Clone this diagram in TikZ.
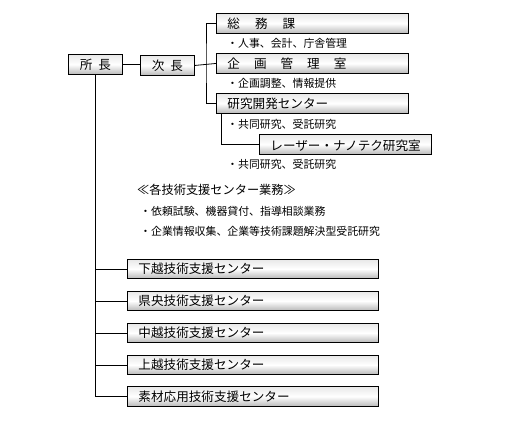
\documentclass[tikz,border=0pt]{standalone}
\usepackage{fontspec}
\setmainfont{Noto Sans CJK JP}
\begin{document}
\begin{tikzpicture}[x=1pt,y=-1pt,
  box/.style={draw=black, line width=0.9pt, rectangle, anchor=north west,
    top color=gray!18, bottom color=gray!55, middle color=white,
    minimum height=20pt, inner xsep=11pt, inner ysep=0pt, align=left,
    font=\fontsize{12.6}{14}\selectfont},
  note/.style={anchor=west, inner sep=0pt, font=\fontsize{10.9}{13}\selectfont},
  conn/.style={draw=black, line width=0.8pt}]
\useasboundingbox (0,0) rectangle (512,429);

\node[box, minimum width=54pt, minimum height=20pt, align=center, inner xsep=0pt] (shocho) at (68,54) {所\hspace{6pt}長};
\node[box, minimum width=54pt, minimum height=20pt, align=center, inner xsep=0pt] (jicho) at (140,55) {次\hspace{6pt}長};

\node[box, text width=170pt] (soumu) at (216,13) {総\hspace{15pt}務\hspace{15pt}課};
\node[box, text width=170pt] (kikaku) at (216,53) {企\hspace{14pt}画\hspace{14pt}管\hspace{14pt}理\hspace{14pt}室};
\node[box, text width=170pt] (kenkyu) at (216,93) {研究開発センター};
\node[box, text width=150pt, inner xsep=11pt] (laser) at (259,134) {\hspace{2pt}レーザー・ナノテク研究室};

\node[note] (n1) at (227,43) {・人事、会計、庁舎管理};
\node[note] (n2) at (227,83) {・企画調整、情報提供};
\node[note] (n3) at (227,124) {・共同研究、受託研究};
\node[note] (n4) at (227,164) {・共同研究、受託研究};

\node[anchor=west, inner sep=0pt, font=\fontsize{12.2}{14}\selectfont] (gyomu) at (137,190) {≪各技術支援センター業務≫};
\node[note] (n5) at (140,211) {・依頼試験、機器貸付、指導相談業務};
\node[note] (n6) at (140,231) {・企業情報収集、企業等技術課題解決型受託研究};

\node[box, text width=229pt, minimum height=19pt] (c1) at (127,259) {下越技術支援センター};
\node[box, text width=229pt, minimum height=19pt] (c2) at (127,291) {県央技術支援センター};
\node[box, text width=229pt, minimum height=19pt] (c3) at (127,323) {中越技術支援センター};
\node[box, text width=229pt, minimum height=19pt] (c4) at (127,355) {上越技術支援センター};
\node[box, text width=229pt, minimum height=20pt] (c5) at (127,386) {素材応用技術支援センター};

\coordinate (v1) at (206,63);
\coordinate (v2) at (221,113);

\draw[conn] (shocho.east) -- (shocho.east -| jicho.west);
\draw[conn] (jicho.east) -- (kikaku.west);
\draw[conn] (soumu.west) -| (v1) |- (kenkyu.west);
\draw[conn] (v2) |- (laser.west);
\draw[conn] (shocho.south) |- (c5.west);
\foreach \c in {c1,c2,c3,c4}{
  \draw[conn] (\c.west) -- (\c.west -| shocho.south);
}
\end{tikzpicture}
\end{document}
